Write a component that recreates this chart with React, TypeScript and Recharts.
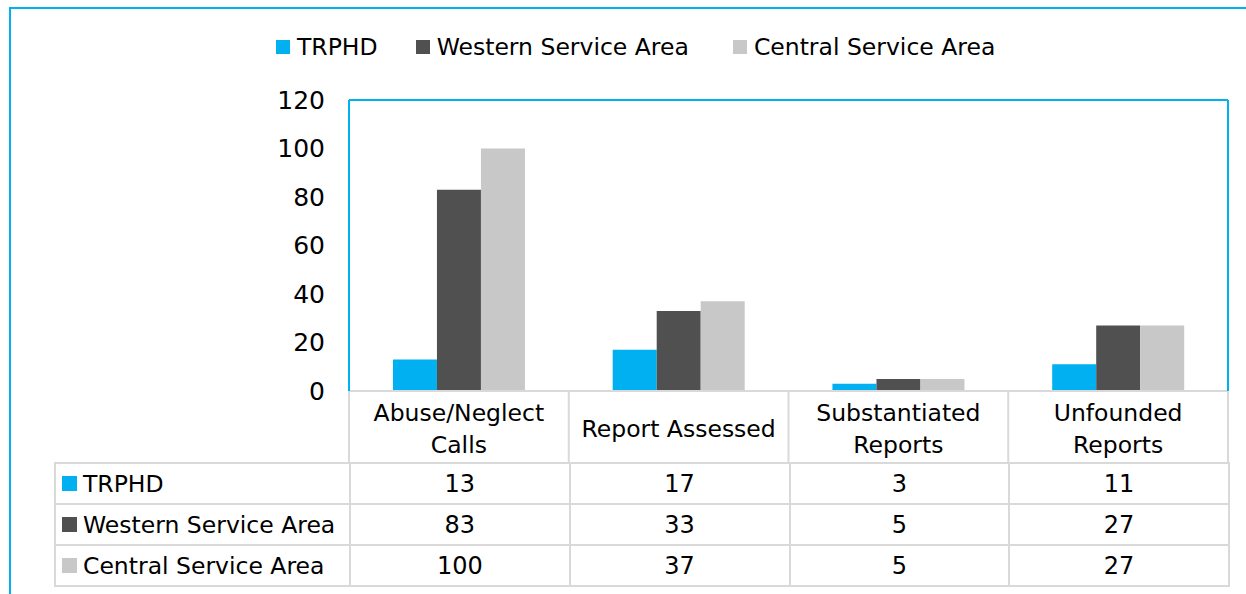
import { Bar, BarChart, XAxis, YAxis } from "recharts"

// categories and series
const CATEGORIES = ["Abuse/Neglect Calls", "Report Assessed", "Substantiated Reports", "Unfounded Reports"]
const CATEGORY_LINES = [["Abuse/Neglect", "Calls"], ["Report Assessed"], ["Substantiated", "Reports"], ["Unfounded", "Reports"]]
const SERIES_NAMES = ["TRPHD", "Western Service Area", "Central Service Area"]
const SERIES_COLORS = ["#00B0F0", "#505050", "#C8C8C8"]
const TRPHD = [13, 17, 3, 11]
const WESTERN = [83, 33, 5, 27]
const CENTRAL = [100, 37, 5, 27]
const Y_TICKS = [0, 20, 40, 60, 80, 100, 120]

const SERIES_VALUES = [TRPHD, WESTERN, CENTRAL]
const KEYS = ["trphd", "western", "central"]

const data = CATEGORIES.map((name, i) => ({
  name,
  trphd: TRPHD[i],
  western: WESTERN[i],
  central: CENTRAL[i],
}))

const FONT = "'DejaVu Sans', sans-serif"
const BLUE = "#00B0F0"
const GRID = "#D9D9D9"

const W = 1246
const H = 594
const MARGIN = { top: 99, right: 17, bottom: 131, left: 289 }
const Y_AXIS_W = 60
const HEADER_H = 72
const PLOT_W = W - MARGIN.left - Y_AXIS_W - MARGIN.right - 1
const BAND = PLOT_W / CATEGORIES.length
const LABEL_COL = 295
const ROW_H = 41

function CategoryTick(props: any) {
  const { x, y, index } = props
  const lines = CATEGORY_LINES[index] ?? [props.payload.value]
  const half = BAND / 2
  const baselines = lines.length === 2 ? [30, 62] : [46]
  return (
    <g>
      <line x1={x - half} x2={x - half} y1={y} y2={y + HEADER_H} stroke={GRID} strokeWidth={2} />
      {index === CATEGORIES.length - 1 && (
        <line x1={x + half} x2={x + half} y1={y} y2={y + HEADER_H} stroke={GRID} strokeWidth={2} />
      )}
      {lines.map((t: string, i: number) => (
        <text key={i} x={x} y={y + baselines[i]} textAnchor="middle" fill="#000" fontSize={23.5} fontFamily={FONT}>
          {t}
        </text>
      ))}
    </g>
  )
}

function Swatch({ color, size }: { color: string; size: number }) {
  return <span style={{ display: "inline-block", width: size, height: size, background: color, flexShrink: 0 }} />
}

const LEGEND_GAPS = [38, 44, 0]

export default function App() {
  return (
    <div style={{ position: "absolute", left: 0, top: 0, width: W, height: H, overflow: "hidden", background: "#fff", fontFamily: FONT }}>
      <div style={{ position: "absolute", left: 9, top: 7, width: 1400, height: 800, border: `2px solid ${BLUE}` }} />

      <div style={{ position: "absolute", left: 276, top: 33, display: "flex", alignItems: "center", fontSize: 23.5, color: "#000" }}>
        {SERIES_NAMES.map((n, i) => (
          <div key={n} style={{ display: "flex", alignItems: "center", marginRight: LEGEND_GAPS[i] }}>
            <Swatch color={SERIES_COLORS[i]} size={14} />
            <span style={{ marginLeft: 7, lineHeight: "28px" }}>{n}</span>
          </div>
        ))}
      </div>

      <div style={{ position: "absolute", left: 0, top: 0 }}>
        <BarChart width={W} height={H} data={data} margin={MARGIN} barCategoryGap="20%" barGap={0}>
          <XAxis
            dataKey="name"
            height={HEADER_H}
            interval={0}
            tickLine={false}
            tickSize={0}
            tickMargin={0}
            axisLine={{ stroke: GRID, strokeWidth: 2 }}
            tick={<CategoryTick />}
          />
          <XAxis xAxisId="top" dataKey="name" orientation="top" height={1} tick={false} tickLine={false} axisLine={{ stroke: BLUE, strokeWidth: 2 }} />
          <YAxis
            domain={[0, 120]}
            ticks={Y_TICKS}
            width={Y_AXIS_W}
            tickLine={false}
            tickSize={0}
            tickMargin={24}
            axisLine={{ stroke: BLUE, strokeWidth: 2 }}
            tick={{ fill: "#000", fontSize: 25, fontFamily: FONT }}
          />
          <YAxis yAxisId="right" orientation="right" domain={[0, 120]} width={1} tick={false} tickLine={false} axisLine={{ stroke: BLUE, strokeWidth: 2 }} />
          {KEYS.map((k, i) => (
            <Bar key={k} dataKey={k} name={SERIES_NAMES[i]} fill={SERIES_COLORS[i]} isAnimationActive={false} />
          ))}
        </BarChart>
      </div>

      {/* data table under the category header */}
      <table
        style={{
          position: "absolute",
          left: 54,
          top: H - MARGIN.bottom - 1,
          borderCollapse: "collapse",
          tableLayout: "fixed",
          width: LABEL_COL + PLOT_W,
          fontSize: 23.5,
          color: "#000",
        }}
      >
        <colgroup>
          <col style={{ width: LABEL_COL }} />
          {CATEGORIES.map((c) => (
            <col key={c} style={{ width: BAND }} />
          ))}
        </colgroup>
        <tbody>
          {SERIES_NAMES.map((n, r) => (
            <tr key={n} style={{ height: ROW_H }}>
              <td style={{ border: `2px solid ${GRID}`, padding: "0 0 0 6px", whiteSpace: "nowrap" }}>
                <div style={{ display: "flex", alignItems: "center" }}>
                  <Swatch color={SERIES_COLORS[r]} size={15} />
                  <span style={{ marginLeft: 6 }}>{n}</span>
                </div>
              </td>
              {SERIES_VALUES[r].map((v, c) => (
                <td key={c} style={{ border: `2px solid ${GRID}`, textAlign: "center", padding: 0, fontSize: 24 }}>
                  {v}
                </td>
              ))}
            </tr>
          ))}
        </tbody>
      </table>
    </div>
  )
}
